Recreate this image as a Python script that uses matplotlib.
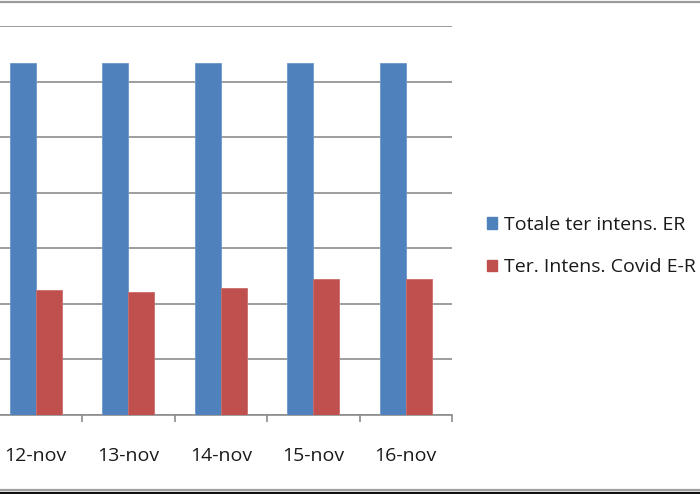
import matplotlib
matplotlib.use("Agg")
from matplotlib import pyplot as plt
from matplotlib.lines import Line2D
from matplotlib.patches import Patch
import numpy as np

# values (axis labels are cropped, scale assumed 100 per gridline)
days = ["12-nov", "13-nov", "14-nov", "15-nov", "16-nov"]
totale = [634, 634, 634, 634, 634]
covid = [225, 222, 228, 244, 244]

blue = "#4F81BD"
red = "#C0504D"
grid_col = "#8C8C8C"

plt.rcParams["font.family"] = ["Open Sans", "DejaVu Sans"]

fig = plt.figure(figsize=(7, 4.94), dpi=100)
W, H = 700, 494

# plot area, left edge falls outside the image like in the screenshot
ax = fig.add_axes([-10.5 / W, (H - 415) / H, 462.5 / W, (415 - 26) / H])

x = np.arange(len(days))
w = 0.281
ax.bar(x - w / 2, totale, w, color=blue, edgecolor="#6C97CB", linewidth=0.6, zorder=3)
ax.bar(x + w / 2, covid, w, color=red, edgecolor="#CB6D6A", linewidth=0.6, zorder=3)

ax.set_xlim(-0.5, len(days) - 0.5)
ax.set_ylim(0, 700)
ax.set_yticks(np.arange(0, 701, 100))
ax.yaxis.grid(True, color=grid_col, linewidth=1.2, zorder=0)
ax.tick_params(axis="y", left=False, labelleft=False)

ax.set_xticks(x)
ax.set_xticklabels(days, fontsize=14, color="#1A1A1A")
ax.tick_params(axis="x", length=0, pad=23)
ax.set_xticks(np.arange(-0.5, len(days), 1), minor=True)
ax.tick_params(axis="x", which="minor", length=5, width=1.2, color=grid_col)

for s in ["left", "top", "right"]:
    ax.spines[s].set_visible(False)
ax.spines["bottom"].set_color(grid_col)
ax.spines["bottom"].set_linewidth(1.2)
ax.set_facecolor("white")

handles = [Patch(facecolor=blue, edgecolor=blue), Patch(facecolor=red, edgecolor=red)]
fig.legend(handles, ["Totale ter intens. ER", "Ter. Intens. Covid E-R"],
           loc="center left", bbox_to_anchor=(470 / W, 1 - 246 / H),
           frameon=False, fontsize=14, handlelength=0.5, handleheight=0.55,
           handletextpad=0.35, labelspacing=1.27, labelcolor="#1A1A1A")

# screenshot borders
fig.add_artist(Line2D([0, 1], [1 - 2.5 / H] * 2, color="#9A9A9A", linewidth=1.6))
fig.add_artist(Line2D([0, 1], [1 - 489.5 / H] * 2, color="#A0A0A0", linewidth=1.6))
fig.add_artist(Line2D([0, 1], [1 - 492.5 / H] * 2, color="#111111", linewidth=1.6))

fig.savefig("out.png", dpi=100)
